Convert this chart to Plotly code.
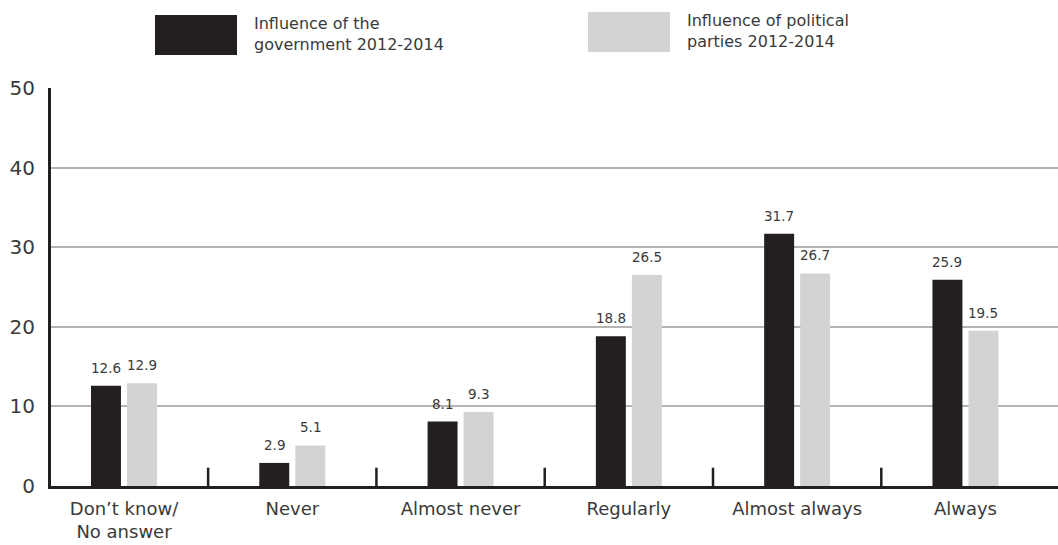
import plotly.graph_objects as go

# Survey answers and shares (%)
categories = ["Don’t know/<br>No answer", "Never", "Almost never",
              "Regularly", "Almost always", "Always"]
government = [12.6, 2.9, 8.1, 18.8, 31.7, 25.9]
parties = [12.9, 5.1, 9.3, 26.5, 26.7, 19.5]
series_names = ["Influence of the<br>government 2012-2014",
                "Influence of political<br>parties 2012-2014"]
y_ticks = [0, 10, 20, 30, 40, 50]

DARK = "#231f20"
LIGHT = "#d1d3d4"
TEXT = "#3a3a3a"
FONT = "DejaVu Sans"

W, H = 1058, 545
ML, MR, MT, MB = 51, 0, 88, 59
PW, PH = W - ML - MR, H - MT - MB

BAR_W = 0.178
fig = go.Figure()
fig.add_trace(go.Bar(x=categories, y=government, name=series_names[0],
                     marker=dict(color=DARK, line=dict(width=0)),
                     width=BAR_W, offset=-0.196, showlegend=False))
fig.add_trace(go.Bar(x=categories, y=parties, name=series_names[1],
                     marker=dict(color=LIGHT, line=dict(width=0)),
                     width=BAR_W, offset=0.018, showlegend=False))

# value labels above each bar
annotations = []
for i, (g, p) in enumerate(zip(government, parties)):
    for val, off in ((g, -0.107), (p, 0.107)):
        annotations.append(dict(x=i + off, y=val, xref="x", yref="y",
                                text=f"{val:.1f}", showarrow=False,
                                yanchor="bottom", yshift=8,
                                font=dict(family=FONT, size=13.5, color=TEXT)))

# short separators between categories along the baseline
shapes = []
for i in range(len(categories) - 1):
    shapes.append(dict(type="line", xref="x", yref="y",
                       x0=i + 0.5, x1=i + 0.5, y0=0, y1=2.3,
                       line=dict(color=DARK, width=2.5)))


def px_x(px):
    return (px - ML) / PW


def px_y(py):
    return (H - MB - py) / PH


# legend swatches and texts
legend_items = [(155, 237, 15, 55, DARK, 252), (588, 670, 12, 52, LIGHT, 685)]
for (x0, x1, y0, y1, col, tx), name in zip(legend_items, series_names):
    shapes.append(dict(type="rect", xref="paper", yref="paper",
                       x0=px_x(x0), x1=px_x(x1), y0=px_y(y1), y1=px_y(y0),
                       fillcolor=col, line=dict(width=0)))
    annotations.append(dict(x=px_x(tx), y=px_y((y0 + y1) / 2 - 1),
                            xref="paper", yref="paper", text=name,
                            showarrow=False, xanchor="left", yanchor="middle",
                            align="left",
                            font=dict(family=FONT, size=16, color=TEXT)))

fig.update_layout(
    width=W, height=H,
    margin=dict(l=ML, r=MR, t=MT, b=MB),
    paper_bgcolor="white", plot_bgcolor="white",
    barmode="overlay",
    shapes=shapes, annotations=annotations,
    font=dict(family=FONT, color=TEXT),
    xaxis=dict(type="category", range=[-0.4337, 5.55],
               showgrid=False, zeroline=False,
               showline=True, linecolor=DARK, linewidth=3,
               ticks="", tickfont=dict(family=FONT, size=18, color=TEXT),
               ticklabelstandoff=4, fixedrange=True),
    yaxis=dict(range=[0, 50], tickvals=y_ticks,
               showgrid=True, gridcolor="#b3b3b3", gridwidth=1.5,
               zeroline=False, showline=True, linecolor=DARK, linewidth=3,
               ticks="", tickfont=dict(family=FONT, size=20, color=TEXT),
               ticklabelstandoff=9, fixedrange=True),
)

fig.write_html("out.html")
